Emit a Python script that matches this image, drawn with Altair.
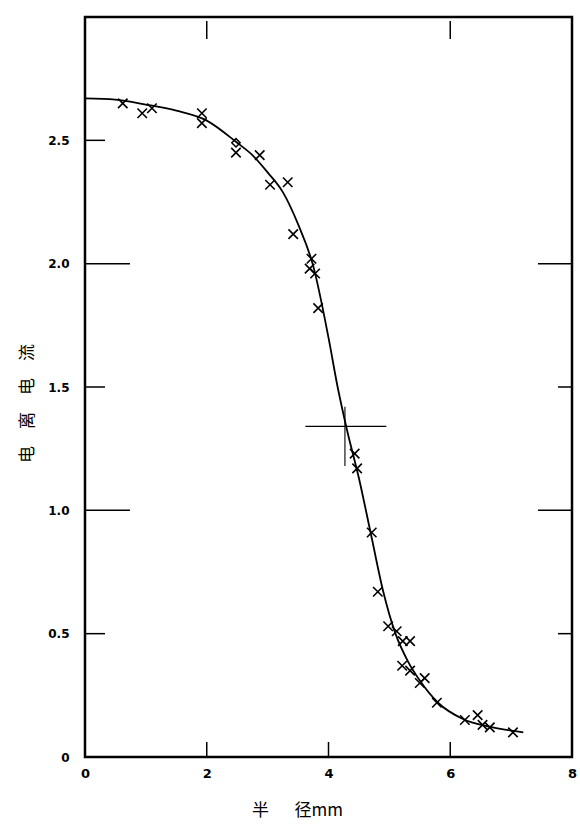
import altair as alt
import pandas as pd

# Smooth fitted curve
CURVE_X = [0.0, 0.5, 1.0, 1.5, 2.0, 2.5, 2.75, 3.0, 3.25, 3.5, 3.75, 4.0, 4.15,
           4.3, 4.5, 4.7, 4.9, 5.1, 5.3, 5.5, 5.8, 6.2, 6.7, 7.2]
CURVE_Y = [2.67, 2.665, 2.645, 2.62, 2.58, 2.49, 2.44, 2.37, 2.29, 2.16, 1.99, 1.70, 1.50,
           1.33, 1.13, 0.90, 0.67, 0.50, 0.39, 0.31, 0.22, 0.155, 0.12, 0.10]

# Measured points (x marks)
PTS_X = [0.62, 0.94, 1.10, 1.92, 1.92, 2.48, 2.87, 3.04, 3.33, 3.42, 3.69, 3.72, 3.78,
         3.83, 4.43, 4.47, 4.71, 4.81, 4.98, 5.12, 5.22, 5.34, 5.21, 5.34, 5.50, 5.58,
         5.78, 6.24, 6.45, 6.53, 6.65, 7.03]
PTS_Y = [2.65, 2.61, 2.63, 2.61, 2.57, 2.45, 2.44, 2.32, 2.33, 2.12, 1.98, 2.02, 1.96,
         1.82, 1.23, 1.17, 0.91, 0.67, 0.53, 0.51, 0.47, 0.47, 0.37, 0.35, 0.30, 0.32,
         0.22, 0.15, 0.17, 0.13, 0.12, 0.10]

DIAMOND_X = [2.48]
DIAMOND_Y = [2.49]

# Cross-hair at the half-value point
HLINE_X = [3.62]
HLINE_X2 = [4.95]
HLINE_Y = [1.34]
VLINE_X = [4.27]
VLINE_Y = [1.18]
VLINE_Y2 = [1.42]

X_LABELS = [0, 2, 4, 6, 8]
Y_LABELS = [0, 0.5, 1.0, 1.5, 2.0, 2.5]
LEFT_LONG = [1.0, 2.0]
LEFT_SHORT = [0.5, 1.5, 2.5]
RIGHT_LONG = [1.0, 2.0]
RIGHT_SHORT = [0.5, 1.5]
TOP_TICKS = [2, 6]
BOTTOM_TICKS = [2, 4, 6]

X_TITLE = "半\u3000\u2002径mm"
Y_TITLE = "电\u3000离\u3000电\u3000流"

W, H = 487, 740
xs = alt.Scale(domain=[0, 8], nice=False)
ys = alt.Scale(domain=[0, 3], nice=False)

X_AXIS = alt.Axis(
    values=X_LABELS, title=X_TITLE, ticks=False, domain=False, grid=False,
    labelFont="DejaVu Sans", labelFontSize=13, labelFontWeight="bold",
    labelColor="black", labelPadding=10, labelFlush=False,
    titleFont="Noto Sans CJK SC", titleFontSize=17, titleFontWeight="normal",
    titleColor="black", titleX=212, titleY=53, titleAlign="center",
    titleBaseline="middle")
Y_AXIS = alt.Axis(
    values=Y_LABELS, labelExpr="datum.value == 0 ? '0' : format(datum.value, '.1f')",
    title=Y_TITLE, ticks=False, domain=False, grid=False,
    labelFont="DejaVu Sans", labelFontSize=12, labelFontWeight="bold",
    labelColor="black", labelPadding=16, labelFlush=False,
    titleFont="Noto Sans CJK SC", titleFontSize=17, titleFontWeight="normal",
    titleColor="black", titleAngle=-90, titleX=-58, titleY=386,
    titleAlign="center", titleBaseline="middle")


def X(field="x"):
    return alt.X(f"{field}:Q", scale=xs, axis=X_AXIS, title=X_TITLE)


def Y(field="y"):
    return alt.Y(f"{field}:Q", scale=ys, axis=Y_AXIS, title=Y_TITLE)


curve = alt.Chart(pd.DataFrame({"x": CURVE_X, "y": CURVE_Y})).mark_line(
    color="black", strokeWidth=1.8, interpolate="monotone"
).encode(x=X(), y=Y())

pts = alt.Chart(pd.DataFrame({"x": PTS_X, "y": PTS_Y})).mark_point(
    shape="M -1 -1 L 1 1 M -1 1 L 1 -1", filled=False, stroke="black",
    strokeWidth=1.6, size=90, opacity=1
).encode(x=X(), y=Y())

diamond = alt.Chart(pd.DataFrame({"x": DIAMOND_X, "y": DIAMOND_Y})).mark_point(
    shape="diamond", filled=False, stroke="black", strokeWidth=1.5, size=70, opacity=1
).encode(x=X(), y=Y())

hline = alt.Chart(pd.DataFrame({"x": HLINE_X, "x2": HLINE_X2, "y": HLINE_Y})).mark_rule(
    color="black", strokeWidth=1.3
).encode(x=X(), x2="x2:Q", y=Y())

vline = alt.Chart(pd.DataFrame({"x": VLINE_X, "y": VLINE_Y, "y2": VLINE_Y2})).mark_rule(
    color="black", strokeWidth=1.1
).encode(x=X(), y=Y(), y2="y2:Q")


def ytick(vals, x0, x1):
    return alt.Chart(pd.DataFrame({"y": vals})).mark_rule(color="black", strokeWidth=1.5).encode(
        y=Y(), x=alt.value(x0), x2=alt.value(x1))


def xtick(vals, y0, y1):
    return alt.Chart(pd.DataFrame({"x": vals})).mark_rule(color="black", strokeWidth=1.5).encode(
        x=X(), y=alt.value(y0), y2=alt.value(y1))


ticks = [
    ytick(LEFT_LONG, 0, 45),
    ytick(LEFT_SHORT, 0, 20),
    ytick(RIGHT_LONG, W - 34, W),
    ytick(RIGHT_SHORT, W - 14, W),
    xtick(TOP_TICKS, 4, 22),
    xtick(BOTTOM_TICKS, H - 15, H),
]

chart = alt.layer(curve, pts, diamond, hline, vline, *ticks).properties(
    width=W, height=H,
    autosize=alt.AutoSizeParams(type="none"),
    padding={"left": 85, "top": 17, "right": 8, "bottom": 70},
    background="white",
).configure_view(stroke="black", strokeWidth=2.5)

chart.save("out.html", embed_options={"renderer": "svg", "actions": False})
